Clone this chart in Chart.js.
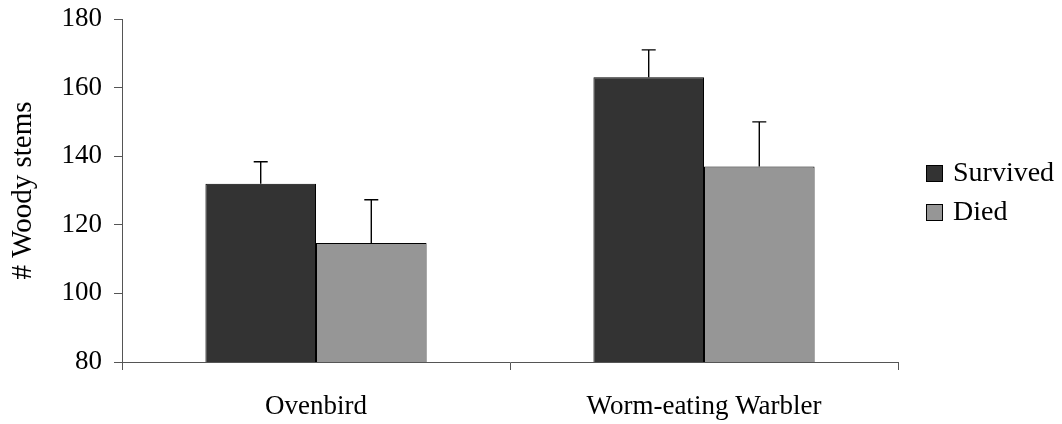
<!DOCTYPE html>
<html>
<head>
<meta charset="utf-8">
<script src="https://cdn.jsdelivr.net/npm/chart.js@4/dist/chart.umd.min.js"></script>
<style>
  html, body { margin: 0; padding: 0; background: #fff; }
  #wrap { position: relative; width: 1062px; height: 424px; }
  #legend { position: absolute; left: 926px; top: 158px; font-family: "Liberation Serif", "Times New Roman", serif; font-size: 28px; color: #000; }
  .item { display: flex; align-items: center; height: 28px; margin-bottom: 11px; }
  .sw { width: 15px; height: 15px; border: 1px solid #000; margin-right: 10px; margin-top: 3px; }
</style>
</head>
<body>
<div id="wrap">
  <canvas id="c" width="1062" height="424"></canvas>
  <div id="legend"></div>
</div>
<script>
const categories = ["Ovenbird", "Worm-eating Warbler"];
const seriesNames = ["Survived", "Died"];
const survived = [132, 163];
const died = [114.7, 137];
const survivedErr = [6.4, 8];
const diedErr = [12.6, 13];
const yTicks = [80, 100, 120, 140, 160, 180];
const colors = ["#333333", "#969696"];

const FONT = '"Liberation Serif", "Times New Roman", serif';

// upward-only error bars with a short cap
const errorBars = {
  id: 'errorBars',
  afterDatasetsDraw(chart) {
    const ctx = chart.ctx;
    const y = chart.scales.y;
    chart.data.datasets.forEach((ds, i) => {
      const meta = chart.getDatasetMeta(i);
      meta.data.forEach((bar, j) => {
        const top = y.getPixelForValue(ds.data[j] + ds.err[j]);
        const base = y.getPixelForValue(ds.data[j]);
        ctx.save();
        ctx.strokeStyle = '#000';
        ctx.lineWidth = 1.4;
        ctx.beginPath();
        ctx.moveTo(bar.x, base);
        ctx.lineTo(bar.x, top);
        ctx.moveTo(bar.x - 7, top);
        ctx.lineTo(bar.x + 7, top);
        ctx.stroke();
        ctx.restore();
      });
    });
  }
};

new Chart(document.getElementById('c'), {
  type: 'bar',
  data: {
    labels: categories,
    datasets: [
      { label: seriesNames[0], data: survived, err: survivedErr, backgroundColor: colors[0], borderColor: '#000', borderWidth: 1 },
      { label: seriesNames[1], data: died, err: diedErr, backgroundColor: colors[1], borderColor: '#000', borderWidth: 1 }
    ]
  },
  options: {
    responsive: false,
    animation: false,
    layout: { padding: { top: 0, right: 164, left: 0, bottom: 0 } },
    plugins: { legend: { display: false }, tooltip: { enabled: false } },
    datasets: { bar: { categoryPercentage: 0.57, barPercentage: 1.0 } },
    scales: {
      x: {
        offset: true,
        grid: { offset: true, drawOnChartArea: false, tickLength: 8, color: '#555' },
        border: { color: '#555', width: 1 },
        ticks: { color: '#000', font: { family: FONT, size: 27 }, padding: 21 },
        afterFit(s) { s.height = 62; }
      },
      y: {
        min: 80, max: 180,
        afterBuildTicks(s) { s.ticks = yTicks.map(v => ({ value: v })); },
        grid: { drawOnChartArea: false, tickLength: 8, color: '#555' },
        border: { color: '#555', width: 1 },
        ticks: { color: '#000', font: { family: FONT, size: 27, lineHeight: 0.52 }, padding: 12 },
        title: { display: true, text: '# Woody stems', color: '#000', font: { family: FONT, size: 29 }, padding: { top: 6, bottom: 0 } },
        afterFit(s) { s.width = 122; }
      }
    }
  },
  plugins: [errorBars]
});

const legend = document.getElementById('legend');
seriesNames.forEach((name, i) => {
  const item = document.createElement('div');
  item.className = 'item';
  const sw = document.createElement('span');
  sw.className = 'sw';
  sw.style.background = colors[i];
  const t = document.createElement('span');
  t.textContent = name;
  item.appendChild(sw);
  item.appendChild(t);
  legend.appendChild(item);
});
</script>
</body>
</html>
